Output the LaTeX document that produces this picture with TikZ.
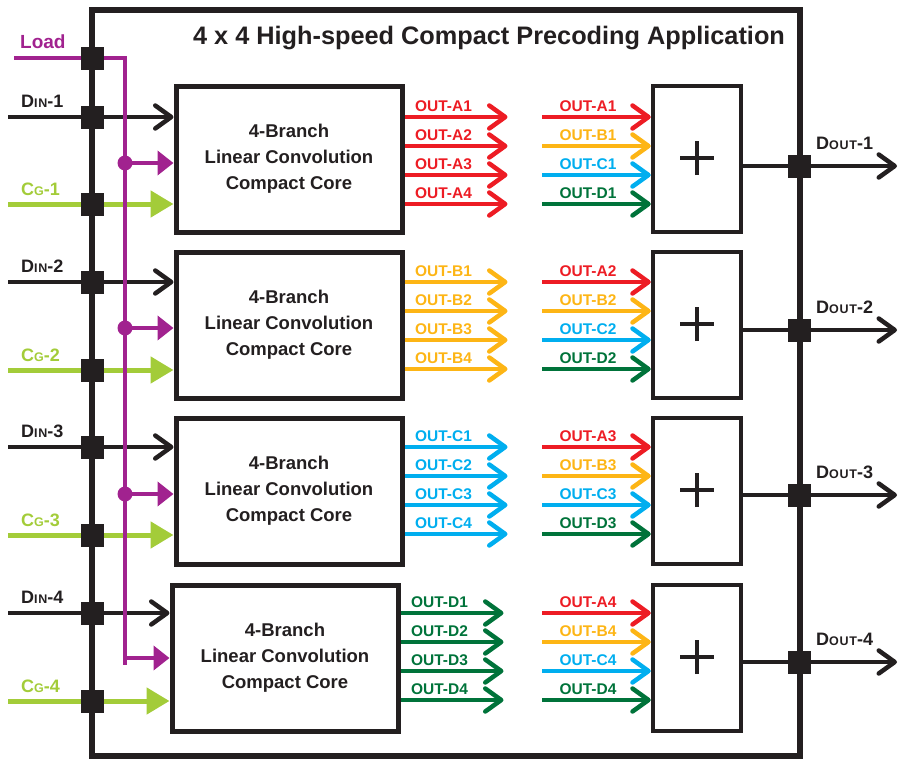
\documentclass[tikz,border=0pt]{standalone}
\usepackage{fontspec}
\setmainfont{Liberation Sans}
\usetikzlibrary{arrows.meta}
\definecolor{ink}{HTML}{231F20}
\definecolor{cred}{HTML}{ED1C24}
\definecolor{cyel}{HTML}{FDB515}
\definecolor{ccyan}{HTML}{00AEEF}
\definecolor{cgreen}{HTML}{00733A}
\definecolor{clime}{HTML}{A3CC39}
\definecolor{cpurp}{HTML}{A1228F}
\newcommand{\sigl}[3]{{\fontsize{18}{18}\selectfont #1}{\fontsize{12.5}{12.5}\selectfont\addfontfeature{LetterSpace=6}#2}{\fontsize{18}{18}\selectfont -#3}}
\begin{document}
\begin{tikzpicture}[x=1pt,y=-1pt,
  frame/.style={draw=ink,line width=6.5pt},
  core/.style={draw=ink,line width=5pt,minimum width=226pt,minimum height=146pt,inner sep=0pt,align=center,
    font=\fontsize{18.5}{26}\selectfont\bfseries,text=ink},
  sumbox/.style={draw=ink,line width=4.5pt,minimum width=88pt,minimum height=146pt,inner sep=0pt},
  junc/.style={fill=ink,minimum size=23pt,inner sep=0pt},
  tap/.style={circle,fill=cpurp,minimum size=15pt,inner sep=0pt},
  chev/.style={-{Straight Barb[length=16pt,width=23pt,line cap=round,line join=round]}},
  dline/.style={draw=ink,line width=4.5pt,chev},
  gline/.style={draw=clime,line width=5pt,-{Triangle[length=23pt,width=26pt]}},
  pline/.style={draw=cpurp,line width=4pt,-{Triangle[length=16pt,width=24pt]}},
  oline/.style={line width=4.5pt,chev},
  olab/.style={anchor=base,font=\fontsize{15.5}{15.5}\selectfont\bfseries,inner sep=0pt},
  siglab/.style={anchor=base west,font=\bfseries,inner sep=0pt},
]
\useasboundingbox (0,0) rectangle (898,761);
% outer frame
\draw[frame] (92,10) rectangle (800,756);
\node[anchor=base,font=\fontsize{25.3}{25.3}\selectfont\bfseries,text=ink,inner sep=0pt] (title) at (489,44)
  {4 x 4 High-speed Compact Precoding Application};
% Load line
\coordinate (loadin) at (14,58);
\coordinate (loadc) at (125,58);
\coordinate (loadb) at (125,665);
\node[siglab,text=cpurp,font=\fontsize{19}{19}\selectfont\bfseries] (loadlab) at (20,48) {Load};
% rows
\foreach \i/\T/\L/\yd/\yc/\yo in {1/86/176/117/204/166,2/252/176/282/370/330,3/418/176/447/535/495,4/585/172/613/701/662}{
  \node[core] (core\i) at (\L+113,\T+73) {4-Branch\\Linear Convolution\\Compact Core};
  \node[sumbox] (sum\i) at (697,\T+73) {};
  \draw[ink,line width=4pt] ([xshift=-17pt,yshift=1pt]sum\i.center) -- ([xshift=17pt,yshift=1pt]sum\i.center)
        ([yshift=-16pt]sum\i.center) -- ([yshift=18pt]sum\i.center);
  \coordinate (din\i) at (8,\yd);
  \coordinate (cg\i) at (8,\yc);
  \draw[dline] (din\i) -- (din\i -| core\i.west);
  \draw[gline] (cg\i) -- (cg\i -| core\i.west);
  \node[junc] (jd\i) at (92,\yd) {};
  \node[junc] (jc\i) at (92,\yc) {};
  \node[siglab,text=ink] (dinlab\i) at (21,\yd-10) {\sigl{D}{IN}{\i}};
  \node[siglab,text=clime] (cglab\i) at (21,\yc-9) {\sigl{C}{G}{\i}};
  % output
  \coordinate (dout\i) at (897,\yo);
  \draw[dline] (sum\i.east |- dout\i) -- (dout\i);
  \node[junc] (jo\i) at (799,\yo) {};
  \node[siglab,text=ink] (doutlab\i) at (816,\yo-17) {\sigl{D}{OUT}{\i}};
}
% purple taps
\foreach \i/\yl in {1/163,2/328,3/494}{
  \node[tap] (tap\i) at (125,\yl) {};
  \draw[pline] (tap\i.center) -- (tap\i -| core\i.west);
}
\draw[draw=cpurp,line width=4pt] (loadin) -- (loadc) -- (loadb);
\draw[pline] (125,663) -- (loadb |- core4.west) -- (core4.west);
\node[junc] (jl) at (92,58) {};
% output arrows from cores
\foreach \i/\yd/\X/\col in {1/117/A/cred,2/282/B/cyel,3/447/C/ccyan,4/613/D/cgreen}{
  \foreach \k in {1,2,3,4}{
    \coordinate (lo\i\k) at ([xshift=103pt]core\i.east |- 0,{\yd+29*(\k-1)});
    \draw[oline,draw=\col] (core\i.east |- lo\i\k) -- (lo\i\k);
    \node[olab,text=\col] (lol\i\k) at ([xshift=-64pt,yshift=6pt]lo\i\k) {OUT-\X\k};
  }
}
% input arrows to sum boxes
\foreach \i/\yd in {1/117,2/282,3/447,4/613}{
  \foreach \k/\X/\col in {1/A/cred,2/B/cyel,3/C/ccyan,4/D/cgreen}{
    \coordinate (ri\i\k) at (542,{\yd+29*(\k-1)});
    \draw[oline,draw=\col] (ri\i\k) -- (ri\i\k -| sum\i.west);
    \node[olab,text=\col] (ril\i\k) at (588,{\yd+29*(\k-1)-6}) {OUT-\X\i};
  }
}
\end{tikzpicture}
\end{document}
